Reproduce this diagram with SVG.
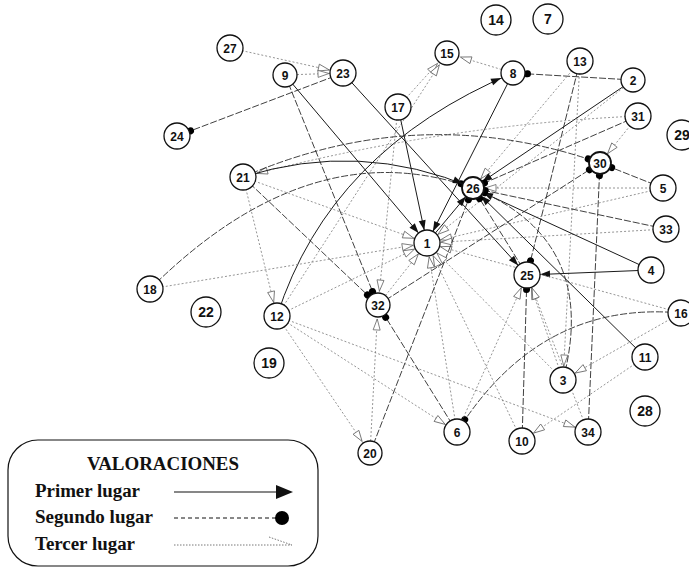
<svg xmlns="http://www.w3.org/2000/svg" width="689" height="569" viewBox="0 0 689 569">
<style>
.s1{stroke:#1a1a1a;stroke-width:1;fill:none}
.s2{stroke:#2a2a2a;stroke-width:0.9;stroke-dasharray:7 2;fill:none}
.s3{stroke:#7a7a7a;stroke-width:0.8;stroke-dasharray:2 2;fill:none}
.n circle{fill:#fff;stroke:#111;stroke-width:1.3}
.n text{font-family:"Liberation Sans",Arial,sans-serif;font-weight:bold;font-size:12px;text-anchor:middle;fill:#111}
.big text{font-size:14px}
.lg{font-family:"Liberation Serif","Times New Roman",serif;font-weight:bold;fill:#111}
</style>
<defs>
<marker id="p13" markerUnits="userSpaceOnUse" markerWidth="12" markerHeight="8" refX="23" refY="4" orient="auto" overflow="visible"><path d="M0,0.5 L10,4 L0,7.5z" fill="#111"/></marker>
<marker id="p11" markerUnits="userSpaceOnUse" markerWidth="12" markerHeight="8" refX="21" refY="4" orient="auto" overflow="visible"><path d="M0,0.5 L10,4 L0,7.5z" fill="#111"/></marker>
<marker id="d13" markerUnits="userSpaceOnUse" markerWidth="8" markerHeight="8" refX="18" refY="3.5" orient="auto" overflow="visible"><circle cx="3.5" cy="3.5" r="3.5" fill="#000"/></marker>
<marker id="d11" markerUnits="userSpaceOnUse" markerWidth="8" markerHeight="8" refX="16" refY="3.5" orient="auto" overflow="visible"><circle cx="3.5" cy="3.5" r="3.5" fill="#000"/></marker>
<marker id="o13" markerUnits="userSpaceOnUse" markerWidth="12" markerHeight="8" refX="25" refY="4" orient="auto" overflow="visible"><path d="M0,0.5 L11,4 L0,7.5z" fill="#fff" stroke="#666" stroke-width="0.8"/></marker>
<marker id="o11" markerUnits="userSpaceOnUse" markerWidth="12" markerHeight="8" refX="23" refY="4" orient="auto" overflow="visible"><path d="M0,0.5 L11,4 L0,7.5z" fill="#fff" stroke="#666" stroke-width="0.8"/></marker>
</defs>
<g id="connectors">
<line class="s3" x1="230" y1="48" x2="343" y2="73" marker-end="url(#o13)"/>
<line class="s3" x1="285" y1="75" x2="343" y2="73" marker-end="url(#o13)"/>
<line class="s2" x1="343" y1="73" x2="177" y2="136" marker-end="url(#d13)"/>
<line class="s2" x1="285" y1="75" x2="378" y2="305" marker-end="url(#d13)"/>
<line class="s1" x1="285" y1="75" x2="427" y2="243" marker-end="url(#p13)"/>
<line class="s1" x1="343" y1="73" x2="527" y2="275" marker-end="url(#p13)"/>
<line class="s3" x1="513" y1="73" x2="447" y2="53" marker-end="url(#o13)"/>
<line class="s3" x1="398" y1="107" x2="447" y2="53" marker-end="url(#o13)"/>
<line class="s3" x1="277" y1="316" x2="447" y2="53" marker-end="url(#o13)"/>
<line class="s2" x1="633" y1="80" x2="513" y2="73" marker-end="url(#d13)"/>
<line class="s1" x1="513" y1="73" x2="427" y2="243" marker-end="url(#p13)"/>
<path class="s1" d="M277,316 Q330,150 513,73" marker-end="url(#p13)"/>
<line class="s3" x1="580" y1="61" x2="473" y2="188" marker-end="url(#o11)"/>
<line class="s2" x1="580" y1="61" x2="527" y2="275" marker-end="url(#d13)"/>
<line class="s3" x1="580" y1="61" x2="563" y2="380" marker-end="url(#o13)"/>
<line class="s1" x1="633" y1="80" x2="473" y2="188" marker-end="url(#p11)"/>
<line class="s3" x1="633" y1="80" x2="427" y2="243" marker-end="url(#o13)"/>
<line class="s3" x1="638" y1="116" x2="600" y2="163" marker-end="url(#o11)"/>
<line class="s2" x1="638" y1="116" x2="473" y2="188" marker-end="url(#d11)"/>
<path class="s3" d="M638,116 Q440,125 243,177" marker-end="url(#o13)"/>
<path class="s2" d="M243,177 Q420,100 600,163" marker-end="url(#d11)"/>
<path class="s2" d="M150,289 Q310,130 473,188" marker-end="url(#d11)"/>
<path class="s1" d="M243,177 Q360,140 473,188" marker-end="url(#p11)"/>
<line class="s3" x1="663" y1="188" x2="473" y2="188" marker-end="url(#o11)"/>
<line class="s2" x1="663" y1="188" x2="600" y2="163" marker-end="url(#d11)"/>
<line class="s3" x1="663" y1="188" x2="427" y2="243" marker-end="url(#o13)"/>
<line class="s2" x1="666" y1="229" x2="473" y2="188" marker-end="url(#d11)"/>
<line class="s3" x1="666" y1="229" x2="427" y2="243" marker-end="url(#o13)"/>
<line class="s1" x1="651" y1="270" x2="473" y2="188" marker-end="url(#p11)"/>
<line class="s1" x1="651" y1="270" x2="527" y2="275" marker-end="url(#p13)"/>
<path class="s2" d="M681,313 Q540,300 457,432" marker-end="url(#d13)"/>
<line class="s3" x1="681" y1="313" x2="563" y2="380" marker-end="url(#o13)"/>
<line class="s3" x1="681" y1="313" x2="427" y2="243" marker-end="url(#o13)"/>
<line class="s1" x1="645" y1="357" x2="473" y2="188" marker-end="url(#p11)"/>
<line class="s3" x1="645" y1="357" x2="522" y2="441" marker-end="url(#o13)"/>
<line class="s3" x1="277" y1="316" x2="588" y2="432" marker-end="url(#o13)"/>
<line class="s3" x1="277" y1="316" x2="457" y2="432" marker-end="url(#o13)"/>
<line class="s3" x1="277" y1="316" x2="370" y2="453" marker-end="url(#o13)"/>
<line class="s3" x1="277" y1="316" x2="427" y2="243" marker-end="url(#o13)"/>
<line class="s3" x1="243" y1="177" x2="277" y2="316" marker-end="url(#o13)"/>
<line class="s2" x1="243" y1="177" x2="378" y2="305" marker-end="url(#d13)"/>
<line class="s3" x1="243" y1="177" x2="427" y2="243" marker-end="url(#o13)"/>
<line class="s3" x1="150" y1="289" x2="427" y2="243" marker-end="url(#o13)"/>
<line class="s2" x1="370" y1="453" x2="473" y2="188" marker-end="url(#d11)"/>
<line class="s3" x1="370" y1="453" x2="378" y2="305" marker-end="url(#o13)"/>
<line class="s2" x1="457" y1="432" x2="378" y2="305" marker-end="url(#d13)"/>
<line class="s1" x1="398" y1="107" x2="427" y2="243" marker-end="url(#p13)"/>
<line class="s3" x1="398" y1="107" x2="378" y2="305" marker-end="url(#o13)"/>
<line class="s3" x1="457" y1="432" x2="427" y2="243" marker-end="url(#o13)"/>
<line class="s3" x1="457" y1="432" x2="527" y2="275" marker-end="url(#o13)"/>
<line class="s2" x1="522" y1="441" x2="527" y2="275" marker-end="url(#d13)"/>
<line class="s3" x1="522" y1="441" x2="427" y2="243" marker-end="url(#o13)"/>
<line class="s3" x1="563" y1="380" x2="527" y2="275" marker-end="url(#o13)"/>
<path class="s2" d="M563,380 Q600,240 473,188" marker-end="url(#d11)"/>
<line class="s3" x1="563" y1="380" x2="427" y2="243" marker-end="url(#o13)"/>
<line class="s3" x1="588" y1="432" x2="527" y2="275" marker-end="url(#o13)"/>
<line class="s2" x1="527" y1="275" x2="473" y2="188" marker-end="url(#d11)"/>
<line class="s1" x1="427" y1="243" x2="473" y2="188" marker-end="url(#p11)"/>
<line class="s3" x1="378" y1="305" x2="427" y2="243" marker-end="url(#o13)"/>
<line class="s2" x1="378" y1="305" x2="600" y2="163" marker-end="url(#d11)"/>
<line class="s2" x1="588" y1="432" x2="600" y2="163" marker-end="url(#d11)"/>
</g>
<g id="nodes">
<g id="n1" class="n"><circle cx="427" cy="243" r="13"/><text x="427" y="247.5">1</text></g>
<g id="n2" class="n"><circle cx="633" cy="80" r="12"/><text x="633" y="84.5">2</text></g>
<g id="n3" class="n"><circle cx="563" cy="380" r="13"/><text x="563" y="384.5">3</text></g>
<g id="n4" class="n"><circle cx="651" cy="270" r="13"/><text x="651" y="274.5">4</text></g>
<g id="n5" class="n"><circle cx="663" cy="188" r="13"/><text x="663" y="192.5">5</text></g>
<g id="n6" class="n"><circle cx="457" cy="432" r="13"/><text x="457" y="436.5">6</text></g>
<g id="n7" class="n big"><circle cx="548" cy="19" r="15"/><text x="548" y="24">7</text></g>
<g id="n8" class="n"><circle cx="513" cy="73" r="12"/><text x="513" y="77.5">8</text></g>
<g id="n9" class="n"><circle cx="285" cy="75" r="12"/><text x="285" y="79.5">9</text></g>
<g id="n10" class="n"><circle cx="522" cy="441" r="13"/><text x="522" y="445.5">10</text></g>
<g id="n11" class="n"><circle cx="645" cy="357" r="13"/><text x="645" y="361.5">11</text></g>
<g id="n12" class="n"><circle cx="277" cy="316" r="13"/><text x="277" y="320.5">12</text></g>
<g id="n13" class="n"><circle cx="580" cy="61" r="13"/><text x="580" y="65.5">13</text></g>
<g id="n14" class="n big"><circle cx="496" cy="20" r="15"/><text x="496" y="25">14</text></g>
<g id="n15" class="n"><circle cx="447" cy="53" r="12"/><text x="447" y="57.5">15</text></g>
<g id="n16" class="n"><circle cx="681" cy="313" r="13"/><text x="681" y="317.5">16</text></g>
<g id="n17" class="n"><circle cx="398" cy="107" r="13"/><text x="398" y="111.5">17</text></g>
<g id="n18" class="n"><circle cx="150" cy="289" r="13"/><text x="150" y="293.5">18</text></g>
<g id="n19" class="n big"><circle cx="269" cy="363" r="15"/><text x="269" y="368">19</text></g>
<g id="n20" class="n"><circle cx="370" cy="453" r="12"/><text x="370" y="457.5">20</text></g>
<g id="n21" class="n"><circle cx="243" cy="177" r="13"/><text x="243" y="181.5">21</text></g>
<g id="n22" class="n big"><circle cx="206" cy="312" r="15"/><text x="206" y="317">22</text></g>
<g id="n23" class="n"><circle cx="343" cy="73" r="13"/><text x="343" y="77.5">23</text></g>
<g id="n24" class="n"><circle cx="177" cy="136" r="13"/><text x="177" y="140.5">24</text></g>
<g id="n25" class="n"><circle cx="527" cy="275" r="13"/><text x="527" y="279.5">25</text></g>
<g id="n26" class="n"><circle cx="473" cy="188" r="11" style="stroke-width:1.8"/><text x="473" y="192.5">26</text></g>
<g id="n27" class="n"><circle cx="230" cy="48" r="13"/><text x="230" y="52.5">27</text></g>
<g id="n28" class="n big"><circle cx="645" cy="411" r="15"/><text x="645" y="416">28</text></g>
<g id="n29" class="n big"><circle cx="682" cy="135" r="15"/><text x="682" y="140">29</text></g>
<g id="n30" class="n"><circle cx="600" cy="163" r="11" style="stroke-width:1.8"/><text x="600" y="167.5">30</text></g>
<g id="n31" class="n"><circle cx="638" cy="116" r="13"/><text x="638" y="120.5">31</text></g>
<g id="n32" class="n"><circle cx="378" cy="305" r="12"/><text x="378" y="309.5">32</text></g>
<g id="n33" class="n"><circle cx="666" cy="229" r="13"/><text x="666" y="233.5">33</text></g>
<g id="n34" class="n"><circle cx="588" cy="432" r="13"/><text x="588" y="436.5">34</text></g>
</g>
<g id="legend">
<rect x="8" y="440" width="310" height="126" rx="30" ry="30" fill="#fff" stroke="#111" stroke-width="1.2"/>
<text class="lg" x="87" y="470" font-size="18" textLength="152" lengthAdjust="spacingAndGlyphs">VALORACIONES</text>
<text class="lg" x="35" y="497" font-size="18" textLength="105" lengthAdjust="spacingAndGlyphs">Primer lugar</text>
<text class="lg" x="35" y="523" font-size="18" textLength="118" lengthAdjust="spacingAndGlyphs">Segundo lugar</text>
<text class="lg" x="35" y="550" font-size="18" textLength="100" lengthAdjust="spacingAndGlyphs">Tercer lugar</text>
<line x1="174" y1="492" x2="278" y2="492" stroke="#111" stroke-width="1.2"/>
<polygon points="276,485 293,492 276,499" fill="#111"/>
<line x1="174" y1="518" x2="276" y2="518" stroke="#111" stroke-width="1" stroke-dasharray="4 3"/>
<circle cx="282" cy="518" r="7" fill="#000"/>
<line x1="174" y1="545" x2="292" y2="545" stroke="#555" stroke-width="0.8" stroke-dasharray="1.5 1.5"/>
<line x1="269" y1="537" x2="292" y2="545" stroke="#555" stroke-width="0.8" stroke-dasharray="1.5 1.5"/>
</g>
</svg>
